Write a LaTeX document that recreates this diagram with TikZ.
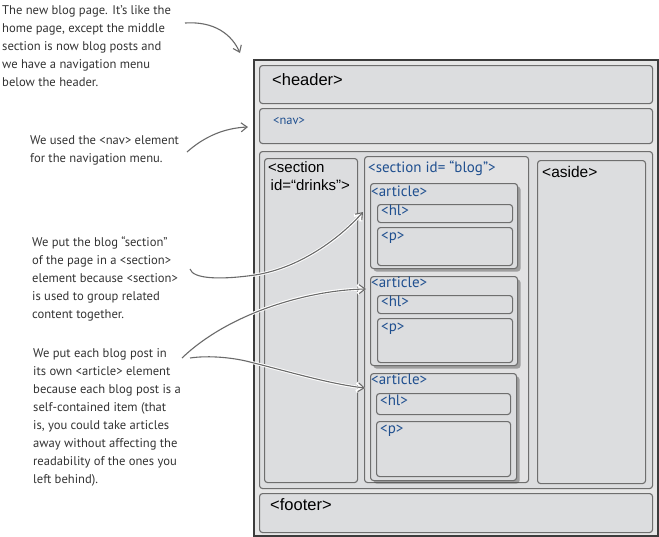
\documentclass[tikz,border=0pt]{standalone}
\usepackage{fontspec}
\setmainfont{Liberation Sans}
\newfontfamily\hand{PT Sans}
\usetikzlibrary{arrows.meta,shadows,positioning}
\definecolor{boxfill}{HTML}{DCDDDF}
\definecolor{pagefill}{HTML}{E6E6E6}
\definecolor{boxline}{HTML}{6E6E6E}
\definecolor{framecol}{HTML}{3C3C3C}
\definecolor{inkblue}{HTML}{1F4F8F}
\definecolor{arrowgray}{HTML}{6A6A6A}
\begin{document}
\begin{tikzpicture}[x=1pt,y=-1pt,
  box/.style={draw=boxline, fill=boxfill, line width=1.1pt, rounded corners=3pt, anchor=north west, inner sep=0pt},
  artbox/.style={box, drop shadow={shadow xshift=3pt, shadow yshift=-3pt, opacity=0.45, fill=black!70}},
  note/.style={font=\hand\fontsize{12.6}{18.1}\selectfont, text=black!80, align=left, anchor=north west, inner sep=0pt},
  tag/.style={font=\fontsize{16.5}{18}\selectfont, anchor=north west, inner sep=0pt, align=left},
  btag/.style={font=\hand\fontsize{15}{16}\selectfont, text=inkblue, anchor=north west, inner sep=0pt},
  pointer/.style={draw=arrowgray, line width=1.1pt, -{Straight Barb[length=6pt,width=9pt]},
     preaction={draw=white, line width=3pt, -{Straight Barb[length=6pt,width=9pt]}}}]
\useasboundingbox (0,0) rectangle (659,536);
% page frame
\node[draw=framecol, fill=pagefill, line width=1.5pt, anchor=north west, inner sep=0pt, minimum width=404pt, minimum height=476pt] (page) at (253,59) {};
\node[box, minimum width=393pt, minimum height=38pt] (header) at (259,65) {};
\node[box, minimum width=393pt, minimum height=35pt] (nav) at (259,108) {};
\node[box, minimum width=393pt, minimum height=337pt] (main) at (259,151) {};
\node[box, minimum width=393pt, minimum height=39pt] (footer) at (259,493) {};
\node[box, minimum width=93pt, minimum height=324pt] (drinks) at (264,158) {};
\node[box, fill=pagefill!60!boxfill, minimum width=164pt, minimum height=326pt] (blog) at (364,156) {};
\node[box, minimum width=108pt, minimum height=323pt] (aside) at (537,160) {};
% articles
\node[artbox, minimum width=147pt, minimum height=85pt] (art1) at (370,183) {};
\node[box, minimum width=135pt, minimum height=18pt] (h1a) at (377,204) {};
\node[box, minimum width=135pt, minimum height=38pt] (pa) at (377,227) {};
\node[artbox, minimum width=147pt, minimum height=89pt] (art2) at (370,276) {};
\node[box, minimum width=135pt, minimum height=18pt] (h1b) at (377,295) {};
\node[box, minimum width=135pt, minimum height=44pt] (pb) at (377,318) {};
\node[artbox, minimum width=146pt, minimum height=107pt] (art3) at (370,373) {};
\node[box, minimum width=134pt, minimum height=21pt] (h1c) at (376,393) {};
\node[box, minimum width=134pt, minimum height=55pt] (pc) at (376,421) {};
% labels
\node[tag] (lheader) at (272,73) {<header>};
\node[tag, font=\fontsize{15}{18}\selectfont] (ldrinks) at (268,161) {<section\\\,id=“drinks”>};
\node[tag, font=\fontsize{15.5}{18}\selectfont] (laside) at (542,166) {<aside>};
\node[tag] (lfooter) at (270,498) {<footer>};
\node[btag, font=\hand\fontsize{12.5}{14}\selectfont] (lnav) at (273,117) {<nav>};
\node[btag] (lblog) at (368,161) {<section id= “blog”>};
\node[btag] (lart1) at (371,186) {<article>};
\node[btag] (lh1a) at (381,205) {<hl>};
\node[btag] (lpa) at (381,232) {<p>};
\node[btag] (lart2) at (371,277) {<article>};
\node[btag] (lh1b) at (381,296) {<hl>};
\node[btag] (lpb) at (381,323) {<p>};
\node[btag] (lart3) at (371,374) {<article>};
\node[btag] (lh1c) at (380,395) {<hl>};
\node[btag] (lpc) at (380,425) {<p>};
% notes
\node[note] (n1) at (2,5) {The new blog page. It’s like the\\home page, except the middle\\section is now blog posts and\\we have a navigation menu\\below the header.};
\node[note] (n2) at (30,135) {We used the <nav> element\\for the navigation menu.};
\node[note] (n3) at (32,236) {We put the blog “section”\\of the page in a <section>\\element because <section>\\is used to group related\\content together.};
\node[note] (n4) at (33,348) {We put each blog post in\\its own <article> element\\because each blog post is a\\self-contained item (that\\is, you could take articles\\away without affecting the\\readability of the ones you\\left behind).};
% arrows
\coordinate (a1s) at (185,23);
\coordinate (a1e) at (240,53);
\coordinate (a2s) at (187,152);
\coordinate (a2e) at (248,127);
\coordinate (a3s) at (190,269);
\coordinate (a3m) at (255,275);
\coordinate (a3e) at (363,212);
\coordinate (a4s) at (182,358);
\coordinate (a4e) at (366,289);
\coordinate (a5s) at (190,358);
\coordinate (a5m) at (250,362);
\coordinate (a5e) at (365,388);
\draw[pointer] (a1s) .. controls (215,21) and (232,35) .. (a1e);
\draw[pointer] (a2s) .. controls (205,136) and (225,128) .. (a2e);
\draw[pointer] (a3s) .. controls (193,279) and (220,280) .. (a3m) .. controls (300,268) and (340,238) .. (a3e);
\draw[pointer] (a4s) .. controls (230,312) and (310,290) .. (a4e);
\draw[pointer] (a5s) .. controls (210,355) and (235,358) .. (a5m) .. controls (290,372) and (330,384) .. (a5e);
\end{tikzpicture}
\end{document}
